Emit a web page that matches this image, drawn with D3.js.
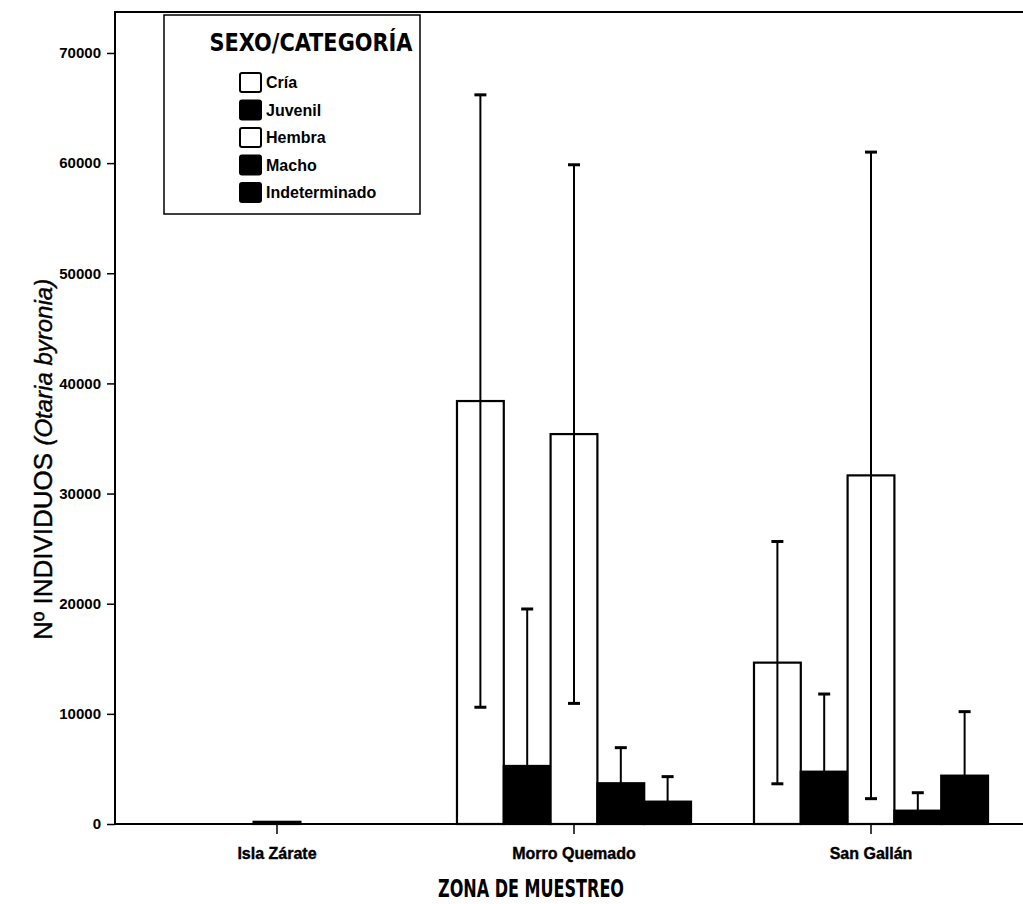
<!DOCTYPE html>
<html>
<head>
<meta charset="utf-8">
<script src="https://cdn.jsdelivr.net/npm/d3@7"></script>
<style>
  body { margin: 0; background: #fff; }
  svg { display: block; }
  .tick text { font-family: "Liberation Sans Narrow", "Liberation Sans", sans-serif; font-weight: bold; }
</style>
</head>
<body>
<svg id="chart" width="1023" height="904"></svg>
<script>
let zonas = ['Isla Zárate', 'Morro Quemado', 'San Gallán'];
let categorias = ['Cría', 'Juvenil', 'Hembra', 'Macho', 'Indeterminado'];
let rellenos = ['#fff', '#000', '#fff', '#000', '#000'];

// media por categoria, en el orden de las zonas
let cria = [0, 38400, 14650];
let juvenil = [0, 5270, 4750];
let hembra = [200, 35400, 31650];
let macho = [0, 3700, 1210];
let indeterminado = [0, 2030, 4390];

// semiamplitud de las barras de error
let errCria = [0, 27800, 11000];
let errJuvenil = [0, 14250, 7050];
let errHembra = [0, 24450, 29350];
let errMacho = [0, 3230, 1630];
let errIndet = [0, 2270, 5810];

let yTicks = [0, 10000, 20000, 30000, 40000, 50000, 60000, 70000];

let medias = [cria, juvenil, hembra, macho, indeterminado];
let errores = [errCria, errJuvenil, errHembra, errMacho, errIndet];

let datos = [];
zonas.forEach((z, i) => {
  categorias.forEach((c, j) => {
    datos.push({ zona: z, cat: c, valor: medias[j][i], err: errores[j][i], fill: rellenos[j] });
  });
});

let svg = d3.select('#chart');
let mLeft = 115, mTop = 12, mBottom = 824, mRight = 1023;

let x0 = d3.scaleBand().domain(zonas).range([128.5, 1019.5]).paddingInner(0.212).paddingOuter(0.106);
let x1 = d3.scaleBand().domain(categorias).range([0, x0.bandwidth()]);
let y = d3.scaleLinear().domain([0, 73720]).range([mBottom, mTop]);

// barras
svg.append('g').selectAll('rect')
  .data(datos.filter(d => d.valor > 0))
  .enter()
  .append('rect')
  .attr('x', d => x0(d.zona) + x1(d.cat))
  .attr('y', d => y(d.valor))
  .attr('width', x1.bandwidth())
  .attr('height', d => mBottom - y(d.valor))
  .attr('fill', d => d.fill)
  .attr('stroke', '#000')
  .attr('stroke-width', 2.2);

// barras de error
let eb = svg.append('g').selectAll('g')
  .data(datos.filter(d => d.err > 0))
  .enter()
  .append('g')
  .attr('stroke', '#000')
  .attr('stroke-width', 2);
let cx = d => x0(d.zona) + x1(d.cat) + x1.bandwidth() / 2;
eb.append('line')
  .attr('x1', cx).attr('x2', cx)
  .attr('y1', d => y(Math.max(0, d.valor - d.err)))
  .attr('y2', d => y(d.valor + d.err));
eb.append('line')
  .attr('x1', d => cx(d) - 6).attr('x2', d => cx(d) + 6)
  .attr('y1', d => y(d.valor + d.err)).attr('y2', d => y(d.valor + d.err))
  .attr('stroke-width', 3);
eb.filter(d => d.valor - d.err > 0).append('line')
  .attr('x1', d => cx(d) - 6).attr('x2', d => cx(d) + 6)
  .attr('y1', d => y(d.valor - d.err)).attr('y2', d => y(d.valor - d.err))
  .attr('stroke-width', 3);

// ejes
let yAxis = svg.append('g')
  .attr('transform', `translate(${mLeft},0)`)
  .call(d3.axisLeft(y).tickValues(yTicks).tickFormat(d3.format('d')).tickSize(8).tickPadding(6));
yAxis.select('.domain').remove();
yAxis.selectAll('.tick line').attr('stroke-width', 1.5);
yAxis.selectAll('.tick text').attr('font-size', 15).attr('fill', '#000');

let xAxis = svg.append('g')
  .attr('transform', `translate(0,${mBottom})`)
  .call(d3.axisBottom(x0).tickSize(10).tickPadding(14));
xAxis.select('.domain').remove();
xAxis.selectAll('.tick line').attr('stroke-width', 1.5);
xAxis.selectAll('.tick text').attr('font-size', 16).attr('font-weight', 'normal')
  .attr('fill', '#000').attr('stroke', '#000').attr('stroke-width', 0.4);

// marco
svg.append('path')
  .attr('d', `M${mRight},${mTop}H${mLeft}V${mBottom}H${mRight}`)
  .attr('fill', 'none')
  .attr('stroke', '#000')
  .attr('stroke-width', 2);

// titulos de ejes
svg.append('text')
  .attr('x', 531).attr('y', 897)
  .attr('text-anchor', 'middle')
  .attr('font-family', 'DejaVu Sans Condensed, sans-serif')
  .attr('font-weight', 'bold')
  .attr('font-size', 24)
  .attr('textLength', 186)
  .attr('lengthAdjust', 'spacingAndGlyphs')
  .text('ZONA DE MUESTREO');

let yt = svg.append('text')
  .attr('transform', 'translate(52,640) rotate(-90)')
  .attr('text-anchor', 'start')
  .attr('font-family', 'Liberation Sans, sans-serif')
  .attr('font-size', 26)
  .attr('stroke', '#000').attr('stroke-width', 0.4);
yt.append('tspan').text('Nº INDIVIDUOS  ');
yt.append('tspan').attr('font-style', 'italic').attr('font-size', 24).text('(Otaria byronia)');

// leyenda
let lg = svg.append('g');
lg.append('rect')
  .attr('x', 164).attr('y', 15).attr('width', 256).attr('height', 199)
  .attr('fill', '#fff').attr('stroke', '#000').attr('stroke-width', 1.5);
lg.append('text')
  .attr('x', 311).attr('y', 51)
  .attr('text-anchor', 'middle')
  .attr('font-family', 'DejaVu Sans Condensed, sans-serif')
  .attr('font-weight', 'bold')
  .attr('font-size', 24)
  .attr('textLength', 203)
  .attr('lengthAdjust', 'spacingAndGlyphs')
  .text('SEXO/CATEGORÍA');
let items = lg.selectAll('g.item')
  .data(categorias)
  .enter()
  .append('g')
  .attr('class', 'item')
  .attr('transform', (d, i) => `translate(240,${73 + i * 27.5})`);
items.append('rect')
  .attr('width', 21).attr('height', 19).attr('rx', 2)
  .attr('fill', (d, i) => rellenos[i])
  .attr('stroke', '#000').attr('stroke-width', 2);
items.append('text')
  .attr('x', 26).attr('y', 15)
  .attr('font-family', 'Liberation Sans Narrow, Liberation Sans, sans-serif')
  .attr('font-weight', 'bold')
  .attr('font-size', 16)
  .text(d => d);
</script>
</body>
</html>
